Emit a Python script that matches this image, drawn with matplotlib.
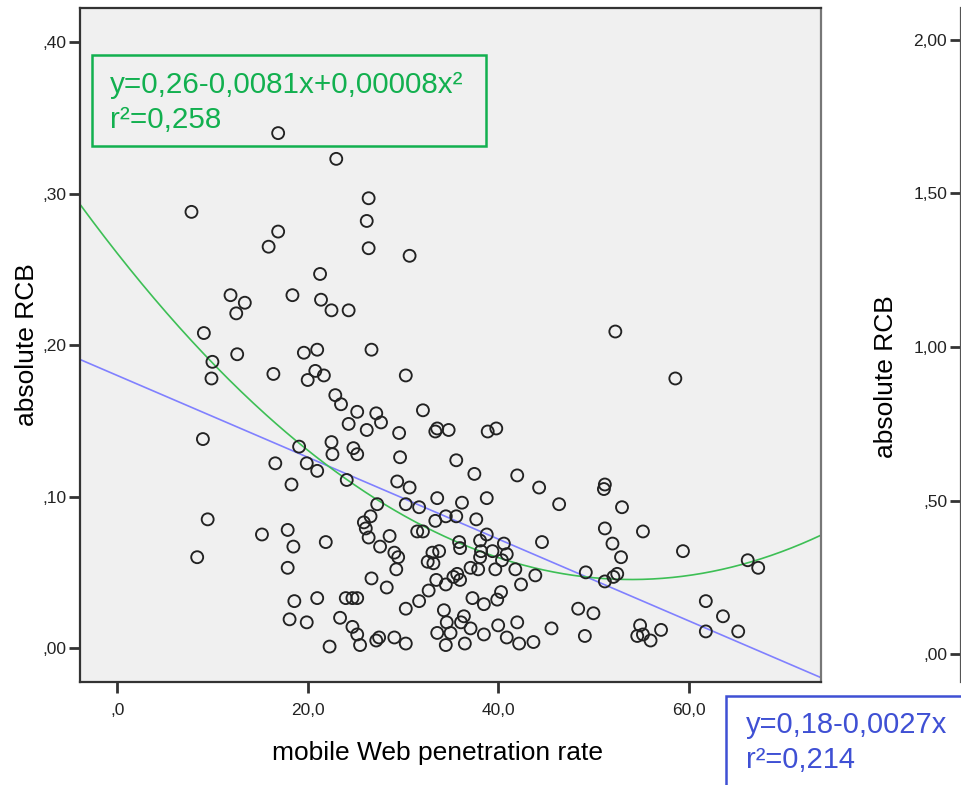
import numpy as np
import matplotlib
matplotlib.use("Agg")
import matplotlib.pyplot as plt
from matplotlib.patches import Rectangle

plt.rcParams['font.family'] = ['Liberation Sans', 'DejaVu Sans']

# mobile Web penetration rate vs absolute RCB
penetration = [
    16.9, 23.0, 7.8, 16.9, 15.9, 26.4, 26.2, 26.4, 30.7, 21.3,
    11.9, 13.4, 12.5, 18.4, 21.4, 22.5, 24.3, 52.3, 9.1, 10.0,
    9.9, 12.6, 19.6, 21.0, 26.7, 16.4, 20.8, 20.0, 21.7, 30.3,
    58.6, 22.9, 23.5, 25.2, 27.2, 27.7, 24.3, 26.2, 32.1, 29.6,
    33.6, 33.4, 34.8, 39.8, 38.9, 22.5, 9.0, 19.1, 24.8, 22.6,
    25.2, 29.7, 35.6, 16.6, 19.9, 21.0, 24.1, 29.4, 30.7, 37.5,
    42.0, 44.3, 51.2, 51.1, 18.3, 27.3, 30.3, 31.7, 33.6, 36.2,
    38.8, 46.4, 53.0, 26.6, 25.9, 26.1, 26.4, 33.4, 34.5, 35.6,
    37.7, 21.9, 28.6, 27.6, 31.5, 32.1, 38.8, 38.1, 35.9, 36.0,
    38.2, 39.4, 40.6, 40.9, 44.6, 51.2, 52.0, 52.9, 29.1, 29.5,
    29.3, 33.1, 33.8, 32.6, 33.2, 38.1, 40.4, 26.7, 28.3, 37.1,
    37.9, 39.7, 41.8, 43.9, 42.4, 49.2, 51.2, 52.1, 52.5, 33.5,
    34.5, 35.3, 35.7, 36.0, 21.0, 24.0, 24.7, 25.2, 32.7, 31.7,
    30.3, 37.3, 38.5, 39.9, 40.3, 48.4, 50.0, 19.9, 23.4, 24.7,
    25.2, 25.5, 22.3, 27.2, 27.5, 29.1, 30.3, 34.3, 34.6, 36.4,
    36.1, 37.1, 33.6, 35.0, 34.5, 36.5, 38.5, 40.0, 40.9, 42.0,
    42.2, 43.7, 45.6, 49.1, 9.5, 8.4, 15.2, 17.9, 18.5, 17.9,
    18.6, 18.1, 55.2, 59.4, 66.2, 67.3, 61.8, 63.6, 65.2, 61.8,
    54.9, 54.6, 55.2, 56.0, 57.1,
]
abs_rcb = [
    0.340, 0.323, 0.288, 0.275, 0.265, 0.297, 0.282, 0.264, 0.259, 0.247,
    0.233, 0.228, 0.221, 0.233, 0.230, 0.223, 0.223, 0.209, 0.208, 0.189,
    0.178, 0.194, 0.195, 0.197, 0.197, 0.181, 0.183, 0.177, 0.180, 0.180,
    0.178, 0.167, 0.161, 0.156, 0.155, 0.149, 0.148, 0.144, 0.157, 0.142,
    0.145, 0.143, 0.144, 0.145, 0.143, 0.136, 0.138, 0.133, 0.132, 0.128,
    0.128, 0.126, 0.124, 0.122, 0.122, 0.117, 0.111, 0.110, 0.106, 0.115,
    0.114, 0.106, 0.108, 0.105, 0.108, 0.095, 0.095, 0.093, 0.099, 0.096,
    0.099, 0.095, 0.093, 0.087, 0.083, 0.079, 0.073, 0.084, 0.087, 0.087,
    0.085, 0.070, 0.074, 0.067, 0.077, 0.077, 0.075, 0.071, 0.070, 0.066,
    0.064, 0.064, 0.069, 0.062, 0.070, 0.079, 0.069, 0.060, 0.063, 0.060,
    0.052, 0.063, 0.064, 0.057, 0.056, 0.060, 0.058, 0.046, 0.040, 0.053,
    0.052, 0.052, 0.052, 0.048, 0.042, 0.050, 0.044, 0.047, 0.049, 0.045,
    0.042, 0.047, 0.049, 0.045, 0.033, 0.033, 0.033, 0.033, 0.038, 0.031,
    0.026, 0.033, 0.029, 0.032, 0.037, 0.026, 0.023, 0.017, 0.020, 0.014,
    0.009, 0.002, 0.001, 0.005, 0.007, 0.007, 0.003, 0.025, 0.017, 0.021,
    0.017, 0.013, 0.010, 0.010, 0.002, 0.003, 0.009, 0.015, 0.007, 0.017,
    0.003, 0.004, 0.013, 0.008, 0.085, 0.060, 0.075, 0.078, 0.067, 0.053,
    0.031, 0.019, 0.077, 0.064, 0.058, 0.053, 0.031, 0.021, 0.011, 0.011,
    0.015, 0.008, 0.009, 0.005, 0.012,
]

# fit curves (np.polyval order, highest power first)
quad_coef = [0.0000739, -0.00798, 0.2607]
lin_coef = [-0.0027, 0.18]
quad_text = ["y=0,26-0,0081x+0,00008x²", "r²=0,258"]
lin_text = ["y=0,18-0,0027x", "r²=0,214"]

x_ticks = [0, 20, 40, 60]
x_ticklabels = [",0", "20,0", "40,0", "60,0"]
y_ticks = [0.0, 0.1, 0.2, 0.3, 0.4]
y_ticklabels = [",00", ",10", ",20", ",30", ",40"]
y2_ticks = [0.0, 0.5, 1.0, 1.5, 2.0]
y2_ticklabels = [",00", ",50", "1,00", "1,50", "2,00"]

green = "#12b04f"
green_line = "#3dbf55"
blue = "#3f50d4"
blue_line = "#8080ff"

fig = plt.figure(figsize=(9.62, 7.85), dpi=100)
ax = fig.add_axes([0.0832, 0.1312, 0.7703, 0.8586])
ax.set_facecolor("#f0f0f0")

ax.scatter(penetration, abs_rcb, s=74, facecolors="none", edgecolors="#222222",
           linewidths=1.35, zorder=3)

xlim = (-3.9, 73.9)
xs = np.linspace(xlim[0], xlim[1], 300)
ax.plot(xs, np.polyval(lin_coef, xs), color=blue_line, lw=1.2, zorder=2)
ax.plot(xs, np.polyval(quad_coef, xs), color=green_line, lw=1.2, zorder=2)

ax.set_xlim(*xlim)
ax.set_ylim(-0.0224, 0.4226)
ax.set_xticks(x_ticks)
ax.set_xticklabels(x_ticklabels)
ax.set_yticks(y_ticks)
ax.set_yticklabels(y_ticklabels)
ax.tick_params(direction="out", length=8, width=2, color="#333333",
               labelsize=12.5, labelcolor="#222222", pad=2)
ax.tick_params(axis="x", pad=7)

for side in ["left", "bottom", "top"]:
    ax.spines[side].set_color("#333333")
    ax.spines[side].set_linewidth(1.6)
ax.spines["right"].set_color("#777777")
ax.spines["right"].set_linewidth(1.6)

ax.set_xlabel("mobile Web penetration rate", fontsize=19)
ax.xaxis.set_label_coords(0.483, -0.087)
ax.set_ylabel("absolute RCB", fontsize=19)
ax.yaxis.set_label_coords(-0.055, 0.5)

# second panel, cut off at the right edge
ax2 = fig.add_axes([0.999, 0.1312, 0.5, 0.8586])
ax2.set_facecolor("white")
ax2.set_ylim(-0.091, 2.104)
ax2.set_yticks(y2_ticks)
ax2.set_yticklabels(y2_ticklabels)
ax2.set_xticks([])
for side in ["right", "bottom", "top"]:
    ax2.spines[side].set_visible(False)
ax2.spines["left"].set_color("#555555")
ax2.spines["left"].set_linewidth(1.6)
ax2.tick_params(direction="out", length=8, width=2, color="#333333",
                labelsize=12.5, labelcolor="#222222", pad=2)
fig.text(886 / 962, 1 - 377 / 785, "absolute RCB", fontsize=19, rotation=90,
         ha="center", va="center")

# equation boxes
fig.patches.append(Rectangle((92 / 962, 1 - 146 / 785), 394 / 962, 91 / 785,
                             transform=fig.transFigure, fill=False,
                             edgecolor=green, lw=1.8))
fig.text(110 / 962, 1 - 93 / 785, quad_text[0], color=green, fontsize=21.3,
         va="baseline")
fig.text(110 / 962, 1 - 128 / 785, quad_text[1], color=green, fontsize=21.3,
         va="baseline")

fig.patches.append(Rectangle((726 / 962, 1 - 800 / 785), 300 / 962, 104 / 785,
                             transform=fig.transFigure, facecolor="white",
                             edgecolor=blue, lw=1.8, zorder=5))
fig.text(746 / 962, 1 - 733 / 785, lin_text[0], color=blue, fontsize=21,
         va="baseline", zorder=6)
fig.text(746 / 962, 1 - 768 / 785, lin_text[1], color=blue, fontsize=21,
         va="baseline", zorder=6)

fig.savefig("out.png", dpi=100)
